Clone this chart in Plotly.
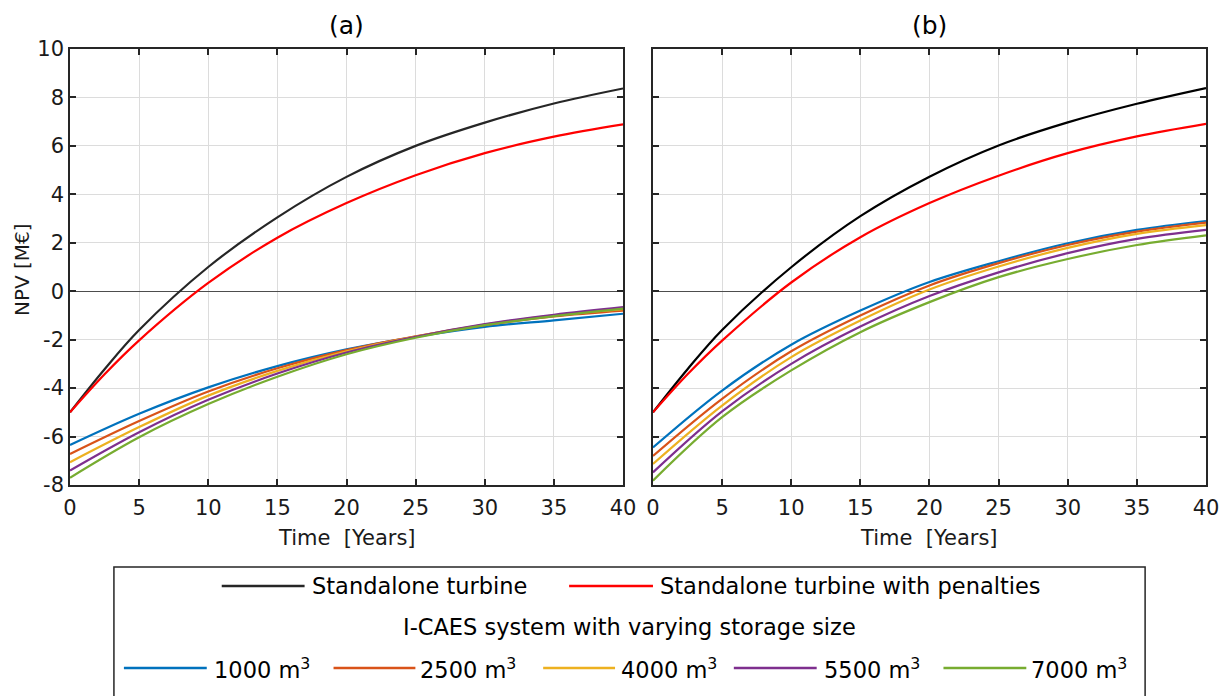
import plotly.graph_objects as go
from plotly.subplots import make_subplots

W, H = 1231, 696
L, R, T, B = 70, 1208, 49, 485  # plot area pixels
A_END, B_START = 624, 654

years = [0, 5, 10, 15, 20, 25, 30, 35, 40]
turb_years = [0, 2.5, 5, 10, 15, 20, 25, 30, 35, 40]

# Panel (a)
a_turbine = [-5.0, -3.22, -1.60, 1.0, 3.05, 4.72, 6.0, 6.96, 7.75, 8.37]
a_penalty = [-5.0, -3.43, -2.03, 0.34, 2.21, 3.64, 4.79, 5.70, 6.38, 6.89]
a_1000 = [-6.35, -5.06, -3.97, -3.09, -2.40, -1.88, -1.47, -1.20, -0.93]
a_2500 = [-6.72, -5.36, -4.14, -3.18, -2.43, -1.86, -1.40, -1.04, -0.80]
a_4000 = [-7.06, -5.61, -4.31, -3.29, -2.48, -1.87, -1.38, -1.00, -0.74]
a_5500 = [-7.40, -5.82, -4.48, -3.40, -2.53, -1.88, -1.36, -0.97, -0.66]
a_7000 = [-7.70, -6.03, -4.66, -3.53, -2.60, -1.92, -1.40, -1.03, -0.72]

# Panel (b)
b_turbine = [-5.0, -3.22, -1.60, 0.99, 3.10, 4.73, 6.02, 6.97, 7.74, 8.39]
b_penalty = [-5.0, -3.43, -2.04, 0.36, 2.23, 3.64, 4.77, 5.70, 6.39, 6.91]
b_1000 = [-6.45, -4.10, -2.21, -0.80, 0.38, 1.24, 1.98, 2.53, 2.90]
b_2500 = [-6.80, -4.44, -2.48, -1.00, 0.24, 1.16, 1.91, 2.46, 2.83]
b_4000 = [-7.13, -4.72, -2.72, -1.21, 0.07, 1.02, 1.79, 2.37, 2.73]
b_5500 = [-7.48, -4.96, -3.00, -1.46, -0.20, 0.78, 1.57, 2.16, 2.53]
b_7000 = [-7.82, -5.20, -3.27, -1.69, -0.45, 0.58, 1.33, 1.91, 2.31]

sizes = ["1000", "2500", "4000", "5500", "7000"]
caes_colors = ["#0072BD", "#D95319", "#EDB120", "#7E2F8E", "#77AC30"]
turbine_colors_a = ["#262626", "#FF0000"]
turbine_colors_b = ["#000000", "#FF0000"]

xticks = [0, 5, 10, 15, 20, 25, 30, 35, 40]
yticks = [-8, -6, -4, -2, 0, 2, 4, 6, 8, 10]
ytick_text = ["-8", "-6", "-4", "-2", "0", "2", "4", "6", "8", "10"]

FONT = "DejaVu Sans"
TXT = "#1A1A1A"

fig = make_subplots(rows=1, cols=2, horizontal_spacing=0.0)

panels = [
    (1, [a_turbine, a_penalty], turbine_colors_a, [a_1000, a_2500, a_4000, a_5500, a_7000]),
    (2, [b_turbine, b_penalty], turbine_colors_b, [b_1000, b_2500, b_4000, b_5500, b_7000]),
]
for col, turb, tcols, caes in panels:
    for ys, c in zip(caes, caes_colors):
        fig.add_trace(go.Scatter(x=years, y=ys, mode="lines", line=dict(color=c, width=2.2, shape="spline"),
                                 showlegend=False), row=1, col=col)
    for ys, c in zip(turb, tcols):
        fig.add_trace(go.Scatter(x=turb_years, y=ys, mode="lines", line=dict(color=c, width=2.2, shape="spline"),
                                 showlegend=False), row=1, col=col)

axis_common = dict(showline=True, mirror="ticks", linecolor="#262626", linewidth=1.5,
                   ticks="inside", ticklen=6, tickcolor="#262626", tickwidth=1.5,
                   showgrid=True, gridcolor="#DCDCDC", gridwidth=1,
                   tickfont=dict(family=FONT, size=21, color=TXT))

pw = R - L
da = (A_END - L) / pw
db = (B_START - L) / pw

fig.update_xaxes(range=[0, 40], tickvals=xticks, zeroline=False, ticklabelstandoff=3, **axis_common)
fig.update_yaxes(range=[-8, 10], tickvals=yticks, ticktext=ytick_text, zeroline=True,
                 zerolinecolor="#4D4D4D", zerolinewidth=1.3, **axis_common)
fig.update_xaxes(domain=[0, da], row=1, col=1)
fig.update_xaxes(domain=[db, 1], row=1, col=2)
fig.update_yaxes(showticklabels=False, row=1, col=2)


def px(x):
    return (x - L) / pw


def py(y):
    return (B - y) / (B - T)


shapes = []
annotations = []

# subplot titles
for cx, t in [((L + A_END) / 2, "(a)"), ((B_START + R) / 2, "(b)")]:
    annotations.append(dict(x=px(cx), y=py(25), xref="paper", yref="paper", text=t, showarrow=False,
                            font=dict(family=FONT, size=25, color="#000000"), xanchor="center", yanchor="middle"))

# axis titles
for cx in [(L + A_END) / 2, (B_START + R) / 2]:
    annotations.append(dict(x=px(cx), y=py(538), xref="paper", yref="paper", text="Time  [Years]",
                            showarrow=False, font=dict(family=FONT, size=21, color=TXT),
                            xanchor="center", yanchor="middle"))
annotations.append(dict(x=px(22), y=py(270), xref="paper", yref="paper", text="NPV [M€]", textangle=-90,
                        showarrow=False, font=dict(family=FONT, size=20, color=TXT),
                        xanchor="center", yanchor="middle"))

# legend box
shapes.append(dict(type="rect", xref="paper", yref="paper", x0=px(114), x1=px(1147), y0=py(720), y1=py(567),
                   line=dict(color="#262626", width=1.5), fillcolor="white", layer="above"))

LEG_FONT = dict(family=FONT, size=22.5, color="#000000")


def leg_entry(x0, x1, y, color, text, tx):
    shapes.append(dict(type="line", xref="paper", yref="paper", x0=px(x0), x1=px(x1), y0=py(y), y1=py(y),
                       line=dict(color=color, width=2.5), layer="above"))
    annotations.append(dict(x=px(tx), y=py(y), xref="paper", yref="paper", text=text, showarrow=False,
                            font=LEG_FONT, xanchor="left", yanchor="middle"))


leg_entry(222, 305, 586, "#262626", "Standalone turbine", 310)
leg_entry(570, 654, 586, "#FF0000", "Standalone turbine with penalties", 659)
annotations.append(dict(x=px(630), y=py(627), xref="paper", yref="paper",
                        text="I-CAES system with varying storage size", showarrow=False,
                        font=LEG_FONT, xanchor="center", yanchor="middle"))
row3 = [(124, 207, 212), (334, 416, 419), (544, 616, 620), (735, 818, 823), (945, 1028, 1031)]
for (x0, x1, tx), s, c in zip(row3, sizes, caes_colors):
    leg_entry(x0, x1, 668, c, f"{s} m<sup>3</sup>", tx)

fig.update_layout(width=W, height=H, margin=dict(l=L, r=W - R, t=T, b=H - B),
                  plot_bgcolor="white", paper_bgcolor="white", showlegend=False,
                  shapes=shapes, annotations=annotations,
                  font=dict(family=FONT, color=TXT))

fig.write_html("out.html")
